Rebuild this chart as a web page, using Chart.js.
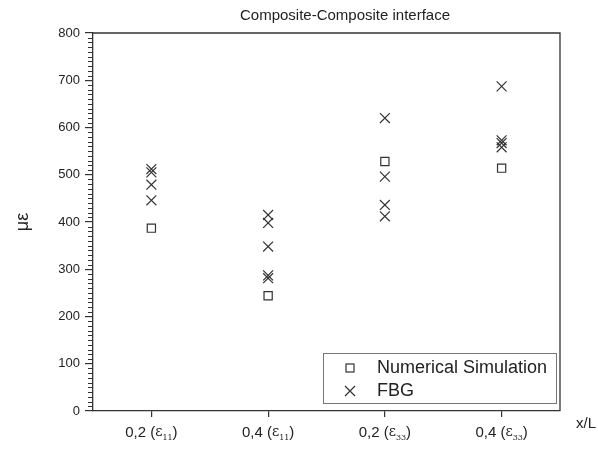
<!DOCTYPE html>
<html>
<head>
<meta charset="utf-8">
<script src="https://cdn.jsdelivr.net/npm/chart.js@4.4.0/dist/chart.umd.min.js"></script>
<style>
  body { margin: 0; background: #fff; }
  #wrap { width: 598px; height: 457px; }
</style>
</head>
<body>
<div id="wrap"><canvas id="chart"></canvas></div>
<script>
// data
var categories = ['0,2', '0,4', '0,2', '0,4'];
var strainIdx = ['11', '11', '33', '33'];
var simValues = [387, 244, 528, 514];
var fbgValues = [
  [512, 505, 479, 446],
  [415, 398, 348, 287, 281],
  [620, 496, 436, 412],
  [687, 573, 567, 558]
];
var yTicks = [0, 100, 200, 300, 400, 500, 600, 700, 800];
var seriesNames = ['Numerical Simulation', 'FBG'];
var titleText = 'Composite-Composite interface';

var ink = '#333';
var font = 'Arial, "Liberation Sans", sans-serif';

var simPoints = simValues.map(function (v, i) { return { x: i + 1, y: v }; });
var fbgPoints = [];
fbgValues.forEach(function (list, i) {
  list.forEach(function (v) { fbgPoints.push({ x: i + 1, y: v }); });
});

// box around plot, minor y ticks, x labels with subscripts, legend, x/L, title
var extras = {
  id: 'extras',
  afterDraw: function (chart) {
    var ctx = chart.ctx;
    var a = chart.chartArea;
    var ys = chart.scales.y;
    var xs = chart.scales.x;
    ctx.save();
    ctx.strokeStyle = ink;
    ctx.lineWidth = 1.3;
    ctx.beginPath();
    ctx.moveTo(a.left, a.top); ctx.lineTo(a.right, a.top); ctx.lineTo(a.right, a.bottom);
    ctx.stroke();

    // minor ticks
    ctx.lineWidth = 1;
    ctx.beginPath();
    for (var v = 10; v < ys.max; v += 10) {
      if (v % 100 === 0) continue;
      var py = Math.round(ys.getPixelForValue(v)) + 0.5;
      ctx.moveTo(a.left - 5, py); ctx.lineTo(a.left, py);
    }
    ctx.stroke();

    // title
    ctx.fillStyle = '#222';
    ctx.textAlign = 'center';
    ctx.textBaseline = 'middle';
    ctx.font = '15px ' + font;
    ctx.fillText(titleText, 345, 16);

    // x labels
    categories.forEach(function (c, i) {
      var px = xs.getPixelForValue(i + 1);
      var y0 = a.bottom + 22;
      var p1 = c + ' (';
      ctx.font = '15px ' + font;
      var w1 = ctx.measureText(p1).width;
      ctx.font = '14px "DejaVu Serif", serif';
      var we = ctx.measureText('\u03b5').width;
      ctx.font = '8px "DejaVu Serif", serif';
      var ws = ctx.measureText(strainIdx[i]).width;
      ctx.font = '15px ' + font;
      var w3 = ctx.measureText(')').width;
      var x0 = px - (w1 + we + ws + w3) / 2;
      ctx.textAlign = 'left';
      ctx.fillText(p1, x0, y0);
      ctx.font = '14px "DejaVu Serif", serif';
      ctx.fillText('\u03b5', x0 + w1, y0 - 1);
      ctx.font = '8px "DejaVu Serif", serif';
      ctx.fillText(strainIdx[i], x0 + w1 + we, y0 + 5);
      ctx.font = '15px ' + font;
      ctx.fillText(')', x0 + w1 + we + ws, y0);
    });

    // x/L
    ctx.font = '15px ' + font;
    ctx.textAlign = 'center';
    ctx.fillText('x/L', 586, a.bottom + 13);

    // legend
    var lx = 323, ly = 353, lw = a.right - 4 - lx, lh = 50;
    ctx.fillStyle = '#fff';
    ctx.fillRect(lx, ly, lw, lh);
    ctx.strokeStyle = '#777';
    ctx.lineWidth = 1;
    ctx.strokeRect(lx + 0.5, ly + 0.5, lw, lh);
    ctx.strokeStyle = ink;
    ctx.lineWidth = 1.2;
    var mx = lx + 27;
    ctx.strokeRect(mx - 4, ly + 15 - 4, 8, 8);
    ctx.beginPath();
    ctx.moveTo(mx - 5, ly + 33); ctx.lineTo(mx + 5, ly + 43);
    ctx.moveTo(mx + 5, ly + 33); ctx.lineTo(mx - 5, ly + 43);
    ctx.stroke();
    ctx.fillStyle = '#222';
    ctx.textAlign = 'left';
    ctx.font = '18px ' + font;
    ctx.fillText(seriesNames[0], lx + 54, ly + 15);
    ctx.fillText(seriesNames[1], lx + 54, ly + 38);
    ctx.restore();
  }
};

new Chart(document.getElementById('chart'), {
  type: 'scatter',
  data: {
    datasets: [{
      label: seriesNames[0],
      data: simPoints,
      pointStyle: 'rect',
      pointRadius: 5.8,
      pointHoverRadius: 5.8,
      backgroundColor: 'rgba(0,0,0,0)',
      borderColor: ink,
      pointBorderWidth: 1.2
    }, {
      label: seriesNames[1],
      data: fbgPoints,
      pointStyle: 'crossRot',
      pointRadius: 7,
      pointHoverRadius: 7,
      borderColor: ink,
      pointBorderWidth: 1.2
    }]
  },
  options: {
    responsive: true,
    maintainAspectRatio: false,
    animation: false,
    events: [],
    layout: { padding: { left: 0, right: 38, top: 33, bottom: 0 } },
    plugins: {
      legend: { display: false },
      tooltip: { enabled: false },
      title: { display: false }
    },
    scales: {
      x: {
        type: 'linear',
        min: 0.5,
        max: 4.5,
        afterBuildTicks: function (s) {
          s.ticks = categories.map(function (c, i) { return { value: i + 1 }; });
        },
        afterFit: function (s) { s.height = 46; },
        ticks: { display: false },
        grid: { drawOnChartArea: false, drawTicks: true, tickLength: 6, color: ink, lineWidth: 1.2 },
        border: { display: true, color: ink, width: 1.3 }
      },
      y: {
        min: 0,
        max: 800,
        afterBuildTicks: function (s) {
          s.ticks = yTicks.map(function (v) { return { value: v }; });
        },
        afterFit: function (s) { s.width = 93; },
        ticks: {
          padding: 5,
          color: '#222',
          font: { family: font, size: 13 }
        },
        grid: { drawOnChartArea: false, drawTicks: true, tickLength: 8, color: ink, lineWidth: 1.2 },
        border: { display: true, color: ink, width: 1.3 },
        title: {
          display: true,
          text: '\u03bc\u03b5',
          color: '#222',
          font: { family: font, size: 18 },
          padding: { top: 12, bottom: 0 }
        }
      }
    }
  },
  plugins: [extras]
});
</script>
</body>
</html>
